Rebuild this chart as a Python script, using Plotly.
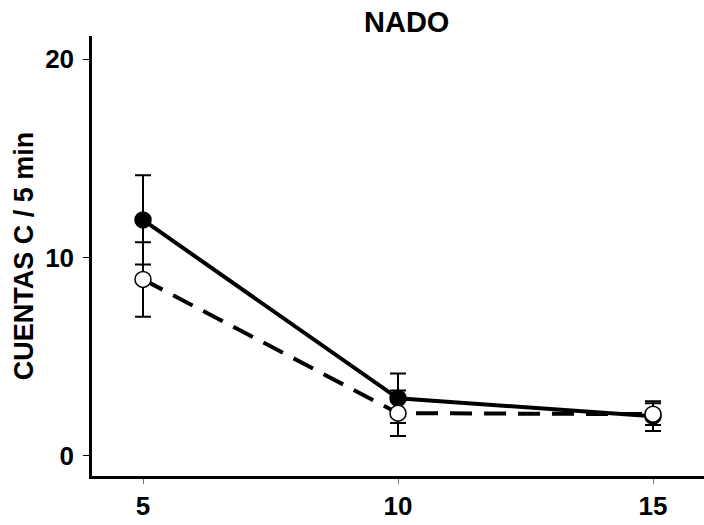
import plotly.graph_objects as go

# Time points (min) and counts per 5 min
minutos = [5, 10, 15]

cuentas_llenos = [11.9, 2.9, 2.0]
error_llenos = [2.25, 1.25, 0.75]

cuentas_vacios = [8.9, 2.15, 2.1]
error_vacios = [1.88, 1.15, 0.55]

eje_x_ticks = [5, 10, 15]
eje_y_ticks = [0, 10, 20]

FUENTE = "Liberation Sans, Arial, sans-serif"

MARGEN_IZQ, MARGEN_SUP, MARGEN_INF = 92, 36, 49
ANCHO, ALTO = 704, 525

fig = go.Figure()

# Filled circles, solid line
fig.add_trace(go.Scatter(
    x=minutos, y=cuentas_llenos,
    mode="lines+markers",
    line=dict(color="black", width=4),
    marker=dict(symbol="circle", size=16, color="black",
                line=dict(color="black", width=1.5)),
    error_y=dict(type="data", array=error_llenos, visible=True,
                 color="black", thickness=2, width=8),
    showlegend=False,
))

# Open circles, dashed line
fig.add_trace(go.Scatter(
    x=minutos, y=cuentas_vacios,
    mode="lines+markers",
    line=dict(color="black", width=4, dash="22px,12px"),
    marker=dict(symbol="circle", size=16, color="white",
                line=dict(color="black", width=1.5)),
    error_y=dict(type="data", array=error_vacios, visible=True,
                 color="black", thickness=2, width=8),
    showlegend=False,
))

ancho_plot = ANCHO - MARGEN_IZQ
alto_plot = ALTO - MARGEN_SUP - MARGEN_INF

fig.update_layout(
    width=ANCHO, height=ALTO,
    margin=dict(l=MARGEN_IZQ, r=0, t=MARGEN_SUP, b=MARGEN_INF),
    paper_bgcolor="white",
    plot_bgcolor="white",
    font=dict(family=FUENTE, color="black"),
    annotations=[dict(
        text="NADO",
        x=(406 - MARGEN_IZQ) / ancho_plot, xref="paper", xanchor="center",
        y=(ALTO - MARGEN_INF - 22) / alto_plot, yref="paper", yanchor="middle",
        showarrow=False, font=dict(size=29, family=FUENTE, weight="bold"),
    )],
)

fig.update_xaxes(
    range=[4.0, 16.0],
    automargin=False,
    tickvals=eje_x_ticks,
    ticktext=[str(v) for v in eje_x_ticks],
    ticks="outside", ticklen=5, tickwidth=1, tickcolor="#777777",
    showline=True, linecolor="black", linewidth=2.5,
    showgrid=False, zeroline=False,
    tickfont=dict(size=26, family=FUENTE, weight="bold"),
    ticklabelstandoff=0,
)

fig.update_yaxes(
    range=[-1.02, 21.18],
    automargin=False,
    tickvals=eje_y_ticks,
    ticktext=[str(v) for v in eje_y_ticks],
    ticks="outside", ticklen=6, tickwidth=1, tickcolor="black",
    showline=True, linecolor="black", linewidth=2.5,
    showgrid=False, zeroline=False,
    tickfont=dict(size=26, family=FUENTE, weight="bold"),
    ticklabelstandoff=4,
    title=dict(text="CUENTAS C / 5 min",
               font=dict(size=27, family=FUENTE, weight="bold"),
               standoff=4),
)

fig.write_html("out.html")
